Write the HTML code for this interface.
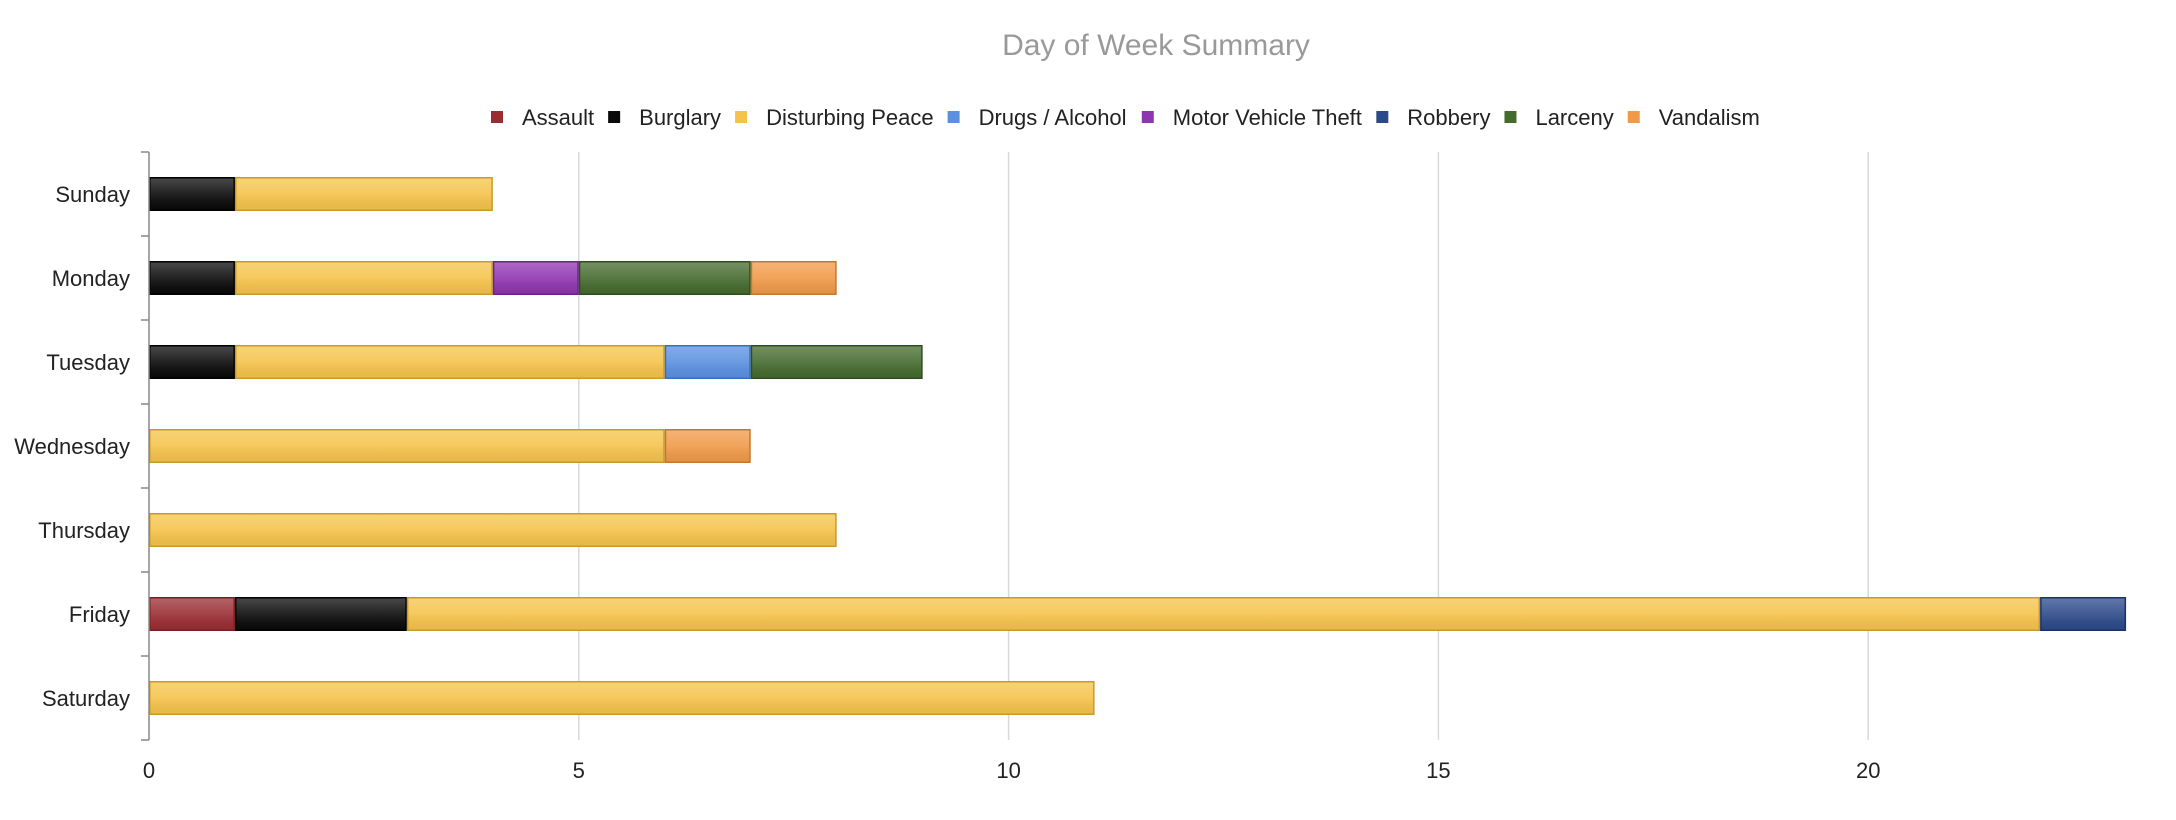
<!DOCTYPE html>
<html><head><meta charset="utf-8"><style>
body{margin:0;background:#fff;}
svg{display:block;font-family:"Liberation Sans",Arial,sans-serif;}
</style></head><body>
<svg id="chart" width="2176" height="820" xmlns="http://www.w3.org/2000/svg">
<defs>
<linearGradient id="gl" x1="0" y1="0" x2="0" y2="1">
<stop offset="0" stop-color="#fff" stop-opacity="0.25"/>
<stop offset="0.5" stop-color="#fff" stop-opacity="0.1"/>
<stop offset="1" stop-color="#000" stop-opacity="0.05"/>
</linearGradient>
</defs>
<text x="1156" y="55" font-size="30" fill="#999" text-anchor="middle">Day of Week Summary</text>
<g id="legend"></g>
<g id="grid"></g>
<g id="bars"></g>
<g id="axes"></g>
</svg>
<script>
const days = ["Sunday","Monday","Tuesday","Wednesday","Thursday","Friday","Saturday"];
const seriesNames = ["Assault","Burglary","Disturbing Peace","Drugs / Alcohol","Motor Vehicle Theft","Robbery","Larceny","Vandalism"];
const assault   = [0,0,0,0,0,1,0];
const burglary  = [1,1,1,0,0,2,0];
const disturbing= [3,3,5,6,8,19,11];
const drugs     = [0,0,1,0,0,0,0];
const mvt       = [0,1,0,0,0,0,0];
const robbery   = [0,0,0,0,0,1,0];
const larceny   = [0,2,2,0,0,0,0];
const vandalism = [0,1,0,1,0,0,0];
const xTicks = [0,5,10,15,20];
const seriesData = [assault,burglary,disturbing,drugs,mvt,robbery,larceny,vandalism];
const fills = ["#9a2d33","#0a0a0a","#f5c34b","#5a90e0","#8e35b0","#2c4a8a","#456a2e","#f09a48"];
const strokes = ["#7a1e24","#000","#c89a2a","#3a6fb8","#6e2090","#1c3068","#2e4e1c","#c87628"];

const NS="http://www.w3.org/2000/svg";
const X0=149, UNIT=85.96, Y0=152, BAND=84, BH=34;
const xs=v=>X0+v*UNIT;
const yc=i=>Y0+BAND*(i+0.5);
function mk(tag,attrs,parent){const e=document.createElementNS(NS,tag);for(const k in attrs)e.setAttribute(k,attrs[k]);parent.appendChild(e);return e;}
const grid=document.getElementById('grid'),bars=document.getElementById('bars'),axes=document.getElementById('axes'),legend=document.getElementById('legend');

xTicks.forEach(t=>{
  if(t>0){const l=mk('line',{x1:xs(t),x2:xs(t),y1:Y0,y2:Y0+BAND*7,stroke:'#d9d9d9','stroke-width':1.5},grid);
  
  }
  const tx=mk('text',{x:xs(t),y:778,'font-size':22,fill:'#222','text-anchor':'middle'},axes);
  tx.textContent=t;
  
  
});

days.forEach((d,i)=>{
  let acc=0;
  seriesData.forEach((s,j)=>{
    const v=s[i]; if(!v) return;
    const r=mk('rect',{x:xs(acc)+0.75,y:yc(i)-BH/2+0.75,width:v*UNIT-1.5,height:BH-1.5,fill:fills[j],stroke:strokes[j],'stroke-width':1.5},bars);
    
    
    const g=mk('rect',{x:xs(acc)+1.5,y:yc(i)-BH/2+1.5,width:v*UNIT-3,height:BH-3,fill:'url(#gl)'},bars);
    
    
    acc+=v;
  });
  const t=mk('text',{x:130,y:yc(i)+8,'font-size':22,fill:'#222','text-anchor':'end'},axes);
  t.textContent=d;
  
  
});
for(let i=0;i<=7;i++){
  const tk=mk('line',{x1:141,x2:X0,y1:Y0+BAND*i,y2:Y0+BAND*i,stroke:'#888','stroke-width':1.5},axes);
  
  
}
const ax=mk('line',{x1:X0,x2:X0,y1:Y0,y2:Y0+BAND*7,stroke:'#888','stroke-width':1.5},axes);



// legend
let lx=491;
const ctx=document.createElement('canvas').getContext('2d');ctx.font='22px "Liberation Sans", Arial, sans-serif';
seriesNames.forEach((n,j)=>{
  const g=mk('g',{},legend);
  
  
  mk('rect',{x:lx,y:111,width:12,height:12,fill:fills[j]},g);
  const t=mk('text',{x:lx+31,y:125,'font-size':22,fill:'#222'},g);
  t.textContent=n;
  lx+=31+ctx.measureText(n).width+14;
});
</script>
</body></html>
